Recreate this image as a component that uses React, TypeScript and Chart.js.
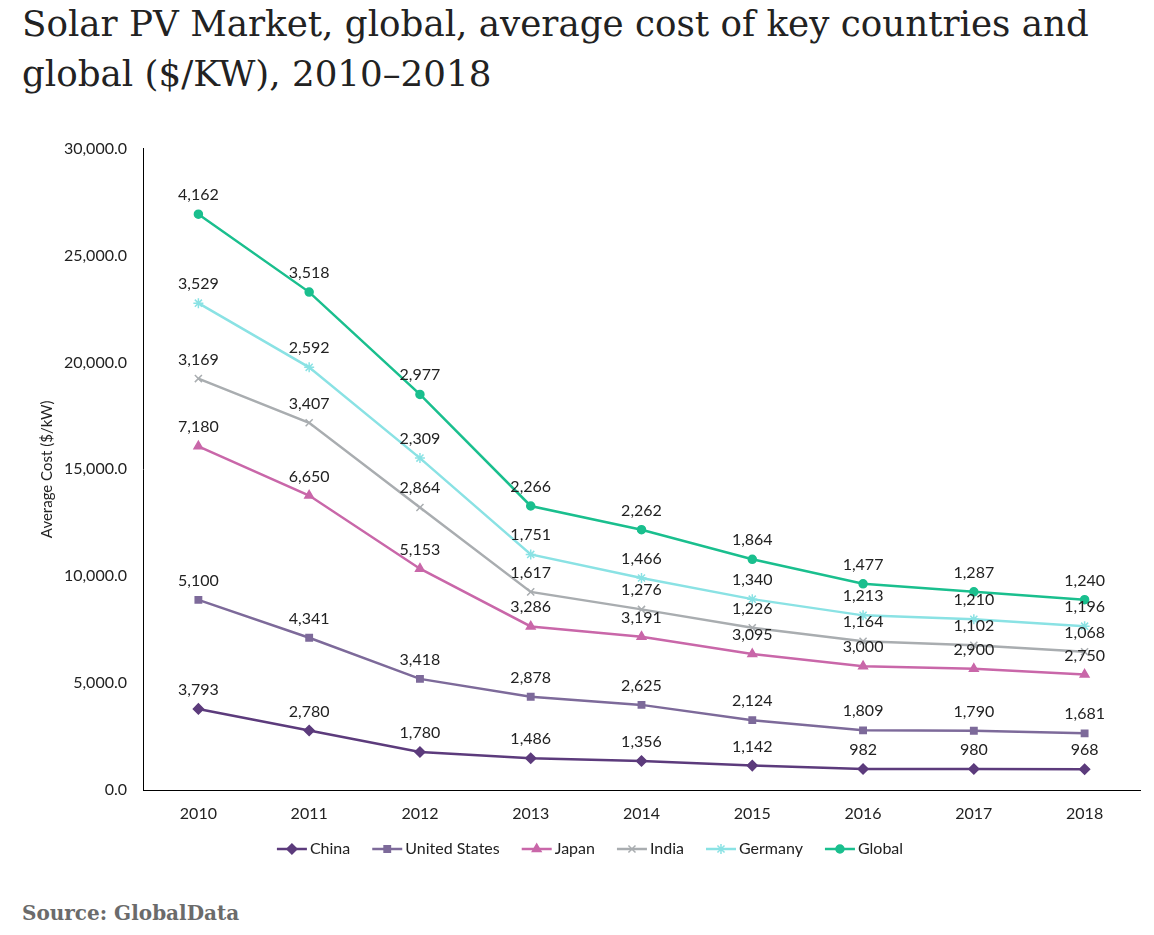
import React, { useEffect, useRef } from "react";
import { Chart, registerables } from "chart.js";
import { drawPoint } from "chart.js/helpers";

Chart.register(...registerables);

const years = ["2010", "2011", "2012", "2013", "2014", "2015", "2016", "2017", "2018"];
const china = [3793, 2780, 1780, 1486, 1356, 1142, 982, 980, 968];
const unitedStates = [5100, 4341, 3418, 2878, 2625, 2124, 1809, 1790, 1681];
const japan = [7180, 6650, 5153, 3286, 3191, 3095, 3000, 2900, 2750];
const india = [3169, 3407, 2864, 1617, 1276, 1226, 1164, 1102, 1068];
const germany = [3529, 2592, 2309, 1751, 1466, 1340, 1213, 1210, 1196];
const globalAvg = [4162, 3518, 2977, 2266, 2262, 1864, 1477, 1287, 1240];

const seriesNames = ["China", "United States", "Japan", "India", "Germany", "Global"];
const seriesData = [china, unitedStates, japan, india, germany, globalAvg];
const seriesColors = ["#5c3b7c", "#7d6a9a", "#c967a9", "#a9adb0", "#8ae2e4", "#1abf8e"];
const seriesMarkers = ["rectRot", "rect", "triangle", "crossRot", "star", "circle"];
const markerSizes = [5, 4.5, 5, 5, 5, 4];

const yMin = 0;
const yMax = 30000;
const yStep = 5000;

const fmt = (v: number) => v.toLocaleString("en-US");

const labelFont = '16px Lato, "Open Sans", sans-serif';

const dataLabelPlugin = {
  id: "dataLabels",
  afterDatasetsDraw(chart: any) {
    const ctx = chart.ctx;
    ctx.save();
    ctx.font = labelFont;
    ctx.fillStyle = "#222222";
    ctx.textAlign = "center";
    ctx.textBaseline = "alphabetic";
    chart.data.datasets.forEach((ds: any, i: number) => {
      const meta = chart.getDatasetMeta(i);
      meta.data.forEach((pt: any, j: number) => {
        ctx.fillText(fmt(ds.data[j]), pt.x, pt.y - 14);
      });
    });
    ctx.restore();
  },
};

const legendPlugin = {
  id: "customLegend",
  afterDraw(chart: any) {
    const ctx = chart.ctx;
    ctx.save();
    ctx.font = '16px Lato, "Open Sans", sans-serif';
    const lineLen = 30;
    const gapText = 3;
    const gapItem = 22;
    const items = chart.data.datasets.map((ds: any) => ({
      ds,
      w: ctx.measureText(ds.label).width,
    }));
    const total =
      items.reduce((s: number, it: any) => s + lineLen + gapText + it.w, 0) +
      gapItem * (items.length - 1);
    let x = 590 - total / 2;
    const y = 726;
    items.forEach((it: any) => {
      const ds = it.ds;
      ctx.strokeStyle = ds.borderColor;
      ctx.fillStyle = ds.borderColor;
      ctx.lineWidth = 2.5;
      ctx.beginPath();
      ctx.moveTo(x, y);
      ctx.lineTo(x + lineLen, y);
      ctx.stroke();
      ctx.lineWidth = 1.5;
      drawPoint(ctx, { pointStyle: ds.pointStyle, radius: ds.pointRadius, rotation: 0, borderWidth: 1.5 } as any, x + lineLen / 2, y);
      ctx.fillStyle = "#222222";
      ctx.textAlign = "left";
      ctx.textBaseline = "middle";
      ctx.fillText(ds.label, x + lineLen + gapText, y);
      x += lineLen + gapText + it.w + gapItem;
    });
    ctx.restore();
  },
};

export default function App() {
  const ref = useRef<HTMLCanvasElement>(null);
  useEffect(() => {
    document.body.style.margin = "0";
    const chart = new Chart(ref.current!, {
      type: "line",
      data: {
        labels: years,
        datasets: seriesNames.map((name, i) => ({
          label: name,
          data: seriesData[i],
          borderColor: seriesColors[i],
          backgroundColor: seriesColors[i],
          pointBackgroundColor: seriesColors[i],
          pointBorderColor: seriesColors[i],
          pointStyle: seriesMarkers[i] as any,
          pointRadius: markerSizes[i],
          pointBorderWidth: 1.5,
          borderWidth: 2.5,
          fill: false,
          tension: 0,
        })),
      },
      options: {
        responsive: false,
        animation: false,
        layout: { padding: { left: 38, top: 10, right: 14, bottom: 60 } },
        plugins: {
          legend: { display: false },
          tooltip: { enabled: false },
          title: { display: false },
        },
        scales: {
          x: {
            offset: true,
            grid: { display: false, drawTicks: false },
            border: { display: true, color: "#000000", width: 1 },
            ticks: {
              color: "#222222",
              font: { family: 'Lato, "Open Sans", sans-serif', size: 16 },
              padding: 14,
              maxRotation: 0,
            },
            afterFit(scale: any) {
              scale.height = 40;
            },
          },
          y: {
            stacked: true,
            min: yMin,
            max: yMax,
            grid: { display: false, drawTicks: false },
            border: { display: true, color: "#000000", width: 1 },
            ticks: {
              stepSize: yStep,
              color: "#222222",
              font: { family: 'Lato, "Open Sans", sans-serif', size: 16 },
              padding: 16,
              callback: (v: any) =>
                Number(v).toLocaleString("en-US", { minimumFractionDigits: 1, maximumFractionDigits: 1 }),
            },
            title: {
              display: true,
              text: "Average Cost ($/kW)",
              color: "#222222",
              font: { family: 'Lato, "Open Sans", sans-serif', size: 15 },
              padding: 0,
            },
            afterFit(scale: any) {
              scale.width = 105;
            },
          },
        },
      },
      plugins: [dataLabelPlugin, legendPlugin],
    });
    return () => chart.destroy();
  }, []);

  return (
    <div style={{ position: "absolute", left: 0, top: 0, width: 1154, height: 935, background: "#ffffff", overflow: "hidden" }}>
      <div
        style={{
          position: "absolute",
          left: 22,
          top: -1,
          fontFamily: '"DejaVu Serif", "Liberation Serif", serif',
          fontSize: 35.7,
          lineHeight: "50px",
          color: "#222222",
          whiteSpace: "nowrap",
        }}
      >
        Solar PV Market, global, average cost of key countries and
        <br />
        global ($/KW), 2010–2018
      </div>
      <canvas ref={ref} width={1154} height={767} style={{ position: "absolute", left: 0, top: 123 }} />
      <div
        style={{
          position: "absolute",
          left: 22,
          top: 902,
          fontFamily: '"DejaVu Serif", "Liberation Serif", serif',
          fontWeight: "bold",
          fontSize: 20,
          lineHeight: "22px",
          color: "#6b6b6b",
          whiteSpace: "nowrap",
        }}
      >
        Source: GlobalData
      </div>
    </div>
  );
}
